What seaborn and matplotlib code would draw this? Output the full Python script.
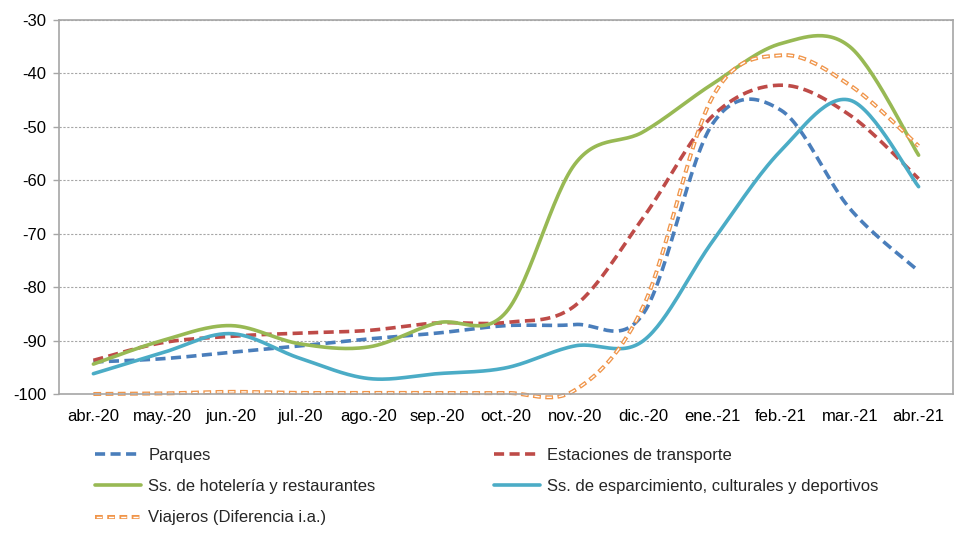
import numpy as np
import pandas as pd
import matplotlib
matplotlib.use("Agg")
import matplotlib.pyplot as plt
import seaborn as sns

# ---- data ----
months = ["abr.-20", "may.-20", "jun.-20", "jul.-20", "ago.-20", "sep.-20", "oct.-20",
          "nov.-20", "dic.-20", "ene.-21", "feb.-21", "mar.-21", "abr.-21"]

parques = [-94.0, -93.4, -92.2, -91.0, -89.7, -88.6, -87.2, -87.0, -84.9, -49.5, -46.9, -65.3, -77.0]
estaciones = [-93.7, -90.4, -89.2, -88.6, -88.1, -86.7, -86.6, -83.5, -66.9, -48.0, -42.2, -47.8, -59.7]
hosteleria = [-94.4, -90.0, -87.2, -90.6, -91.2, -86.7, -84.7, -57.0, -50.9, -42.0, -34.4, -35.0, -55.3]
esparcimiento = [-96.2, -92.3, -88.7, -93.3, -97.1, -96.2, -95.1, -91.0, -90.0, -71.5, -54.4, -45.0, -61.2]
viajeros = [-100.0, -99.9, -99.6, -99.8, -99.8, -99.8, -99.8, -99.3, -83.5, -44.5, -36.6, -42.2, -53.6]

labels = ["Parques", "Estaciones de transporte", "Ss. de hotelería y restaurantes",
          "Ss. de esparcimiento, culturales y deportivos", "Viajeros (Diferencia i.a.)"]
series = [parques, estaciones, hosteleria, esparcimiento, viajeros]


def smooth(y, n=30):
    # Excel-style smoothed line: Catmull-Rom bezier through every point
    y = np.asarray(y, dtype=float)
    x = np.arange(len(y), dtype=float)
    px = np.concatenate([[x[0]], x, [x[-1]]])
    py = np.concatenate([[y[0]], y, [y[-1]]])
    xs, ys = [], []
    t = np.linspace(0, 1, n, endpoint=False)
    b0, b1, b2, b3 = (1 - t) ** 3, 3 * (1 - t) ** 2 * t, 3 * (1 - t) * t ** 2, t ** 3
    for i in range(len(y) - 1):
        c1x = px[i + 1] + (px[i + 2] - px[i]) / 6
        c1y = py[i + 1] + (py[i + 2] - py[i]) / 6
        c2x = px[i + 2] - (px[i + 3] - px[i + 1]) / 6
        c2y = py[i + 2] - (py[i + 3] - py[i + 1]) / 6
        xs.append(b0 * px[i + 1] + b1 * c1x + b2 * c2x + b3 * px[i + 2])
        ys.append(b0 * py[i + 1] + b1 * c1y + b2 * c2y + b3 * py[i + 2])
    xs.append([x[-1]])
    ys.append([y[-1]])
    return np.concatenate(xs), np.concatenate(ys)


sns.set_style("white")
plt.rcParams["font.family"] = ["Liberation Sans", "DejaVu Sans"]
plt.rcParams["axes.unicode_minus"] = False

fig = plt.figure(figsize=(9.72, 5.38), dpi=100)
ax = fig.add_axes([59 / 972, 1 - 394 / 538, (953 - 59) / 972, (394 - 20) / 538])

colors = ["#4A7EBB", "#BE4B48", "#98B954", "#4BACC6", "#F0954A"]
dash = (0, (2.8, 1.5))
styles = [dash, dash, "-", "-", None]

# hollow dashes for Viajeros: orange outer dash + thinner white inner dash
o_lw, w_lw = 2.9, 1.0
o_on, o_off = 5.6, 3.2          # points
inset = 0.9                     # points of orange left at each dash end
period = o_on + o_off
w_on = o_on - 2 * inset
orange_ls = (0, (o_on / o_lw, o_off / o_lw))
white_ls = ((period - inset) / w_lw, (w_on / w_lw, (period - w_on) / w_lw))

handles = {}
for lab, vals, col, ls in zip(labels, series, colors, styles):
    xs, ys = smooth(vals)
    df = pd.DataFrame({"x": xs, "y": ys})
    n_before = len(ax.lines)
    if ls is None:
        sns.lineplot(data=df, x="x", y="y", ax=ax, color=col, linewidth=o_lw,
                     linestyle=orange_ls, estimator=None, sort=False, label=lab)
        sns.lineplot(data=df, x="x", y="y", ax=ax, color="white", linewidth=w_lw,
                     linestyle=white_ls, estimator=None, sort=False)
        outer, inner = ax.lines[n_before], ax.lines[n_before + 1]
        outer.set_clip_on(False)
        inner.set_clip_on(False)
        handles[lab] = (outer, inner)
    else:
        sns.lineplot(data=df, x="x", y="y", ax=ax, color=col, linewidth=2.6,
                     linestyle=ls, estimator=None, sort=False, label=lab)
        handles[lab] = ax.lines[n_before]

ax.set_xlim(-0.5, len(months) - 0.5)
ax.set_ylim(-100, -30)
ax.set_yticks(np.arange(-100, -29, 10))
ax.set_xticks(np.arange(len(months)))
ax.set_xticklabels(months)
ax.set_xlabel("")
ax.set_ylabel("")

ax.yaxis.grid(True, color="#A6A6A6", linestyle=(0, (2, 1.5)), linewidth=0.8)
ax.xaxis.grid(False)
ax.set_axisbelow(True)
for s in ax.spines.values():
    s.set_color("#A6A6A6")
    s.set_linewidth(1.2)

ax.tick_params(axis="y", which="both", left=True, length=4, width=1, color="#A6A6A6",
               pad=5, labelsize=12, labelcolor="#000000")
ax.tick_params(axis="x", bottom=False, pad=7, labelsize=12, labelcolor="#000000")

ax.get_legend().remove()
order = [labels[0], labels[2], labels[4], labels[1], labels[3]]
fig.legend([handles[k] for k in order], order, loc="upper left",
           bbox_to_anchor=(95 / 972, 1 - 448 / 538), ncol=2, frameon=False,
           fontsize=12, handlelength=2.75, handletextpad=0.45, labelspacing=0.97,
           columnspacing=7.1, borderpad=0, borderaxespad=0)

fig.savefig("out.png", dpi=100)
